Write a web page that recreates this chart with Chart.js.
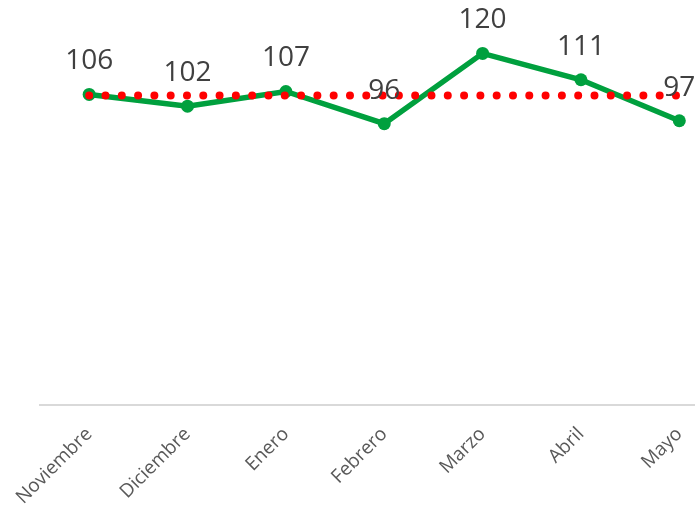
<!DOCTYPE html>
<html>
<head>
<meta charset="utf-8">
<script src="https://cdn.jsdelivr.net/npm/chart.js@4"></script>
<style>
html,body{margin:0;padding:0;overflow:hidden;background:#fff;width:695px;height:509px;}
#wrap{position:absolute;left:0;top:0;width:735px;height:509px;}
</style>
</head>
<body>
<div id="wrap"><canvas id="c" width="735" height="509"></canvas></div>
<script>
const categories = ['Noviembre','Diciembre','Enero','Febrero','Marzo','Abril','Mayo'];
const values = [106, 102, 107, 96, 120, 111, 97];
const average = [105.6, 105.6, 105.6, 105.6, 105.6, 105.6, 105.6];

const labelPlugin = {
  id: 'valueLabels',
  afterDatasetsDraw(chart) {
    const meta = chart.getDatasetMeta(1);
    const ctx = chart.ctx;
    ctx.save();
    ctx.font = '28px "Open Sans"';
    ctx.fillStyle = '#404040';
    ctx.textAlign = 'center';
    ctx.textBaseline = 'alphabetic';
    meta.data.forEach((pt, i) => {
      ctx.fillText(String(values[i]), pt.x, pt.y - 25);
    });
    ctx.restore();
  }
};

new Chart(document.getElementById('c'), {
  type: 'line',
  data: {
    labels: categories,
    datasets: [
      {
        label: 'Promedio',
        data: average,
        borderColor: '#ff0000',
        borderWidth: 8,
        borderDash: [0, 16.3],
        borderCapStyle: 'round',
        pointRadius: 0,
        fill: false,
        tension: 0
      },
      {
        label: 'Valor',
        data: values,
        borderColor: '#00a03e',
        backgroundColor: '#00a03e',
        borderWidth: 5.5,
        pointRadius: 6.5,
        pointBackgroundColor: '#00a03e',
        pointBorderWidth: 0,
        fill: false,
        tension: 0
      }
    ]
  },
  options: {
    responsive: false,
    animation: false,
    layout: { padding: { left: 40, right: 2, top: 0, bottom: 0 } },
    plugins: { legend: { display: false }, tooltip: { enabled: false } },
    scales: {
      y: { display: false, min: 0, max: 136 },
      x: {
        offset: true,
        grid: { display: false, drawTicks: false },
        border: { display: true, color: '#d9d9d9', width: 2 },
        ticks: {
          color: '#595959',
          font: { family: '"Open Sans"', size: 19 },
          minRotation: 45,
          maxRotation: 45,
          padding: 18
        },
        afterFit(s) { s.height = 104; s.paddingLeft = 0; s.paddingRight = 0; }
      }
    }
  },
  plugins: [labelPlugin]
});
</script>
</body>
</html>
